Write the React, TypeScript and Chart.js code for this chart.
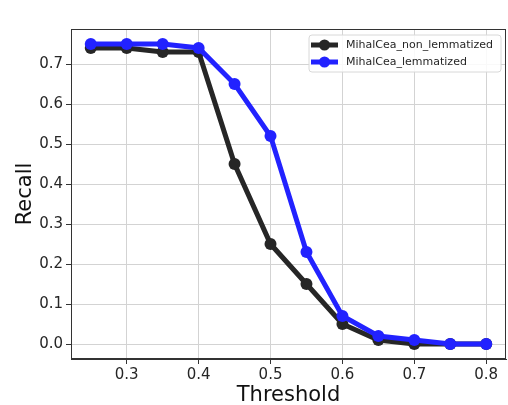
import React, { useEffect, useRef } from "react";
import { Chart, registerables } from "chart.js";

Chart.register(...registerables);

const thresholds = [0.25, 0.3, 0.35, 0.4, 0.45, 0.5, 0.55, 0.6, 0.65, 0.7, 0.75, 0.8];
const nonLemmatized = [0.74, 0.74, 0.73, 0.73, 0.45, 0.25, 0.15, 0.05, 0.01, 0.0, 0.0, 0.0];
const lemmatized = [0.75, 0.75, 0.75, 0.74, 0.65, 0.52, 0.23, 0.07, 0.02, 0.01, 0.0, 0.0];
const xTicks = [0.3, 0.4, 0.5, 0.6, 0.7, 0.8];
const yTicks = [0.0, 0.1, 0.2, 0.3, 0.4, 0.5, 0.6, 0.7];
const seriesNames = ["MihalCea_non_lemmatized", "MihalCea_lemmatized"];

const FONT = "'DejaVu Sans', sans-serif";
const BLACK = "#262626";
const BLUE = "#2222ff";

const frameAndLegend = {
  id: "frameAndLegend",
  afterDraw(chart: any) {
    const { ctx, chartArea } = chart;
    ctx.save();
    ctx.strokeStyle = "#333333";
    ctx.lineWidth = 1;
    ctx.strokeRect(chartArea.left + 0.5, chartArea.top + 0.5, chartArea.right - chartArea.left - 1, chartArea.bottom - chartArea.top - 1);

    // legend
    const bx = 309, by = 35, bw = 192, bh = 37, r = 3;
    ctx.beginPath();
    ctx.moveTo(bx + r, by);
    ctx.lineTo(bx + bw - r, by);
    ctx.quadraticCurveTo(bx + bw, by, bx + bw, by + r);
    ctx.lineTo(bx + bw, by + bh - r);
    ctx.quadraticCurveTo(bx + bw, by + bh, bx + bw - r, by + bh);
    ctx.lineTo(bx + r, by + bh);
    ctx.quadraticCurveTo(bx, by + bh, bx, by + bh - r);
    ctx.lineTo(bx, by + r);
    ctx.quadraticCurveTo(bx, by, bx + r, by);
    ctx.closePath();
    ctx.fillStyle = "rgba(255,255,255,0.85)";
    ctx.fill();
    ctx.strokeStyle = "#d8d8d8";
    ctx.stroke();

    const items = [
      { label: seriesNames[0], color: BLACK, y: 45 },
      { label: seriesNames[1], color: BLUE, y: 62 },
    ];
    ctx.font = "11px " + FONT;
    ctx.textBaseline = "middle";
    for (const it of items) {
      ctx.strokeStyle = it.color;
      ctx.lineWidth = 5;
      ctx.beginPath();
      ctx.moveTo(311, it.y);
      ctx.lineTo(338, it.y);
      ctx.stroke();
      ctx.fillStyle = it.color;
      ctx.beginPath();
      ctx.arc(324.5, it.y, 5.5, 0, Math.PI * 2);
      ctx.fill();
      ctx.fillStyle = BLACK;
      ctx.fillText(it.label, 346, it.y + 0.5);
    }
    ctx.restore();
  },
};

export default function App() {
  const ref = useRef<HTMLCanvasElement>(null);
  useEffect(() => {
    if (!ref.current) return;
    const chart = new Chart(ref.current, {
      type: "line",
      data: {
        datasets: [
          {
            label: seriesNames[0],
            data: thresholds.map((t, i) => ({ x: t, y: nonLemmatized[i] })),
            borderColor: BLACK,
            backgroundColor: BLACK,
            pointBackgroundColor: BLACK,
            borderWidth: 5,
            pointRadius: 6,
            pointBorderWidth: 0,
            tension: 0,
            order: 1,
          },
          {
            label: seriesNames[1],
            data: thresholds.map((t, i) => ({ x: t, y: lemmatized[i] })),
            borderColor: BLUE,
            backgroundColor: BLUE,
            pointBackgroundColor: BLUE,
            borderWidth: 5,
            pointRadius: 6,
            pointBorderWidth: 0,
            tension: 0,
            order: 0,
          },
        ],
      },
      options: {
        animation: false,
        responsive: false,
        maintainAspectRatio: false,
        layout: { autoPadding: false, padding: { left: 0, top: 29, right: 2, bottom: 0 } },
        plugins: { legend: { display: false }, tooltip: { enabled: false } },
        scales: {
          x: {
            type: "linear",
            min: 0.2225,
            max: 0.8275,
            afterBuildTicks: (s: any) => {
              s.ticks = xTicks.map((v) => ({ value: v }));
            },
            afterFit: (s: any) => {
              s.height = 46;
              s.paddingLeft = 0;
              s.paddingRight = 0;
            },
            ticks: {
              font: { family: FONT, size: 15 },
              color: BLACK,
              padding: 2,
              maxRotation: 0,
              callback: (v: any) => Number(v).toFixed(1),
            },
            grid: { color: "#d3d3d3", tickColor: "#333333", tickLength: 5, lineWidth: 1 },
            border: { display: true, color: "#333333" },
            title: {
              display: true,
              text: "Threshold",
              font: { family: FONT, size: 21 },
              color: "#111111",
              padding: { top: 0, bottom: -3 },
            },
          },
          y: {
            type: "linear",
            min: -0.0375,
            max: 0.7875,
            afterBuildTicks: (s: any) => {
              s.ticks = yTicks.map((v) => ({ value: v }));
            },
            afterFit: (s: any) => {
              s.width = 71;
              s.paddingTop = 0;
              s.paddingBottom = 0;
            },
            ticks: {
              font: { family: FONT, size: 15 },
              color: BLACK,
              padding: 3,
              callback: (v: any) => Number(v).toFixed(1),
            },
            grid: { color: "#d3d3d3", tickColor: "#333333", tickLength: 5, lineWidth: 1 },
            border: { display: true, color: "#333333" },
            title: {
              display: true,
              text: "Recall",
              font: { family: FONT, size: 21 },
              color: "#111111",
              padding: { top: 13, bottom: 0 },
            },
          },
        },
      },
      plugins: [frameAndLegend],
    } as any);
    return () => chart.destroy();
  }, []);
  return (
    <div style={{ position: "fixed", left: 0, top: 0, width: 508, height: 405, background: "#ffffff" }}>
      <canvas ref={ref} width={508} height={405} style={{ display: "block", width: 508, height: 405 }} />
    </div>
  );
}
